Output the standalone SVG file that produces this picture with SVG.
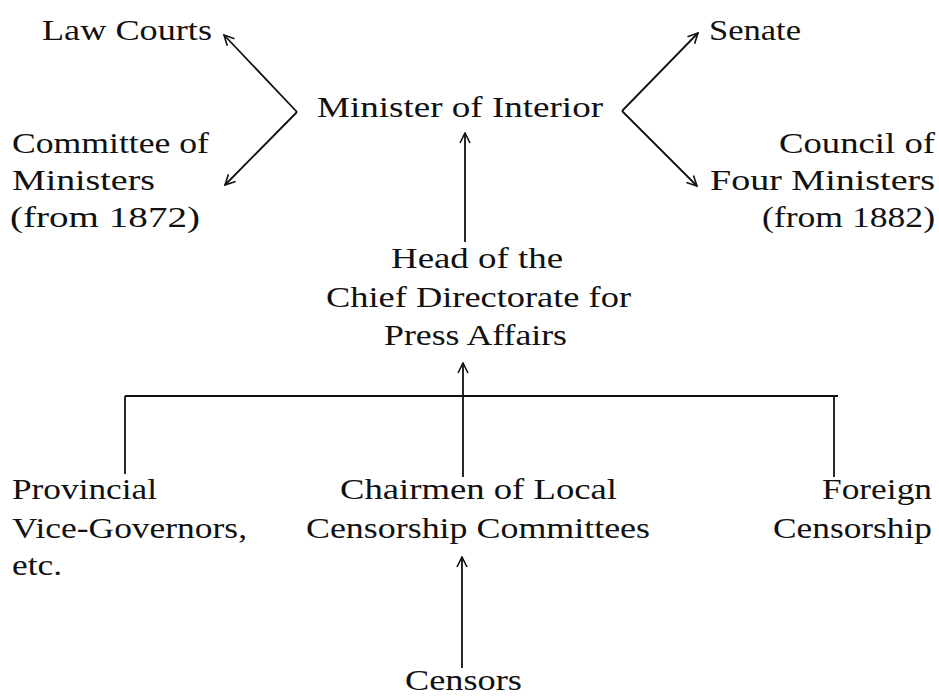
<svg xmlns="http://www.w3.org/2000/svg" width="939" height="696" viewBox="0 0 939 696">
<style>
text{font-family:"Liberation Serif","Times New Roman",serif;font-size:30px;fill:#111;}
.c{fill:none;stroke:#111;stroke-width:1.8;}
</style>
<defs>
<marker id="ah" viewBox="0 0 12 12" refX="11" refY="6" markerWidth="12" markerHeight="12" markerUnits="userSpaceOnUse" orient="auto">
<path d="M1,1 L11,6 L1,11" fill="none" stroke="#111" stroke-width="1.6"/>
</marker>
</defs>
<rect width="939" height="696" fill="#fff"/>
<g id="connectors">
<path class="c" d="M297,112 L224,35" marker-end="url(#ah)"/>
<path class="c" d="M297,112 L225,185" marker-end="url(#ah)"/>
<path class="c" d="M622,111 L698,33" marker-end="url(#ah)"/>
<path class="c" d="M622,111 L697,186" marker-end="url(#ah)"/>
<path class="c" d="M465,242 L465,133" marker-end="url(#ah)"/>
<path class="c" d="M463,396 L463,363" marker-end="url(#ah)"/>
<path class="c" d="M125,396 L838,396"/>
<path class="c" d="M125,396 L125,474"/>
<path class="c" d="M463,396 L463,477"/>
<path class="c" d="M834,396 L834,477"/>
<path class="c" d="M462,668 L462,557" marker-end="url(#ah)"/>
</g>
<g id="law-courts"><text x="42" y="40" textLength="170" lengthAdjust="spacingAndGlyphs">Law Courts</text></g>
<g id="senate"><text x="709" y="40" textLength="92" lengthAdjust="spacingAndGlyphs">Senate</text></g>
<g id="minister"><text x="317" y="117" textLength="286" lengthAdjust="spacingAndGlyphs">Minister of Interior</text></g>
<g id="committee">
<text x="12" y="153" textLength="197" lengthAdjust="spacingAndGlyphs">Committee of</text>
<text x="12" y="190" textLength="143" lengthAdjust="spacingAndGlyphs">Ministers</text>
<text x="10" y="227" textLength="190" lengthAdjust="spacingAndGlyphs">(from 1872)</text>
</g>
<g id="council">
<text x="779" y="153" textLength="156" lengthAdjust="spacingAndGlyphs">Council of</text>
<text x="710" y="190" textLength="225" lengthAdjust="spacingAndGlyphs">Four  Ministers</text>
<text x="762" y="227" textLength="173" lengthAdjust="spacingAndGlyphs">(from 1882)</text>
</g>
<g id="head">
<text x="391" y="268" textLength="172" lengthAdjust="spacingAndGlyphs">Head of the</text>
<text x="326" y="307" textLength="305" lengthAdjust="spacingAndGlyphs">Chief Directorate for</text>
<text x="384" y="345" textLength="183" lengthAdjust="spacingAndGlyphs">Press Affairs</text>
</g>
<g id="provincial">
<text x="12" y="499" textLength="145" lengthAdjust="spacingAndGlyphs">Provincial</text>
<text x="12" y="538" textLength="235" lengthAdjust="spacingAndGlyphs">Vice-Governors,</text>
<text x="12" y="575" textLength="50" lengthAdjust="spacingAndGlyphs">etc.</text>
</g>
<g id="chairmen">
<text x="340" y="499" textLength="277" lengthAdjust="spacingAndGlyphs">Chairmen of Local</text>
<text x="306" y="538" textLength="344" lengthAdjust="spacingAndGlyphs">Censorship Committees</text>
</g>
<g id="foreign">
<text x="822" y="499" textLength="110" lengthAdjust="spacingAndGlyphs">Foreign</text>
<text x="773" y="538" textLength="159" lengthAdjust="spacingAndGlyphs">Censorship</text>
</g>
<g id="censors"><text x="405" y="690" textLength="117" lengthAdjust="spacingAndGlyphs">Censors</text></g>
</svg>
